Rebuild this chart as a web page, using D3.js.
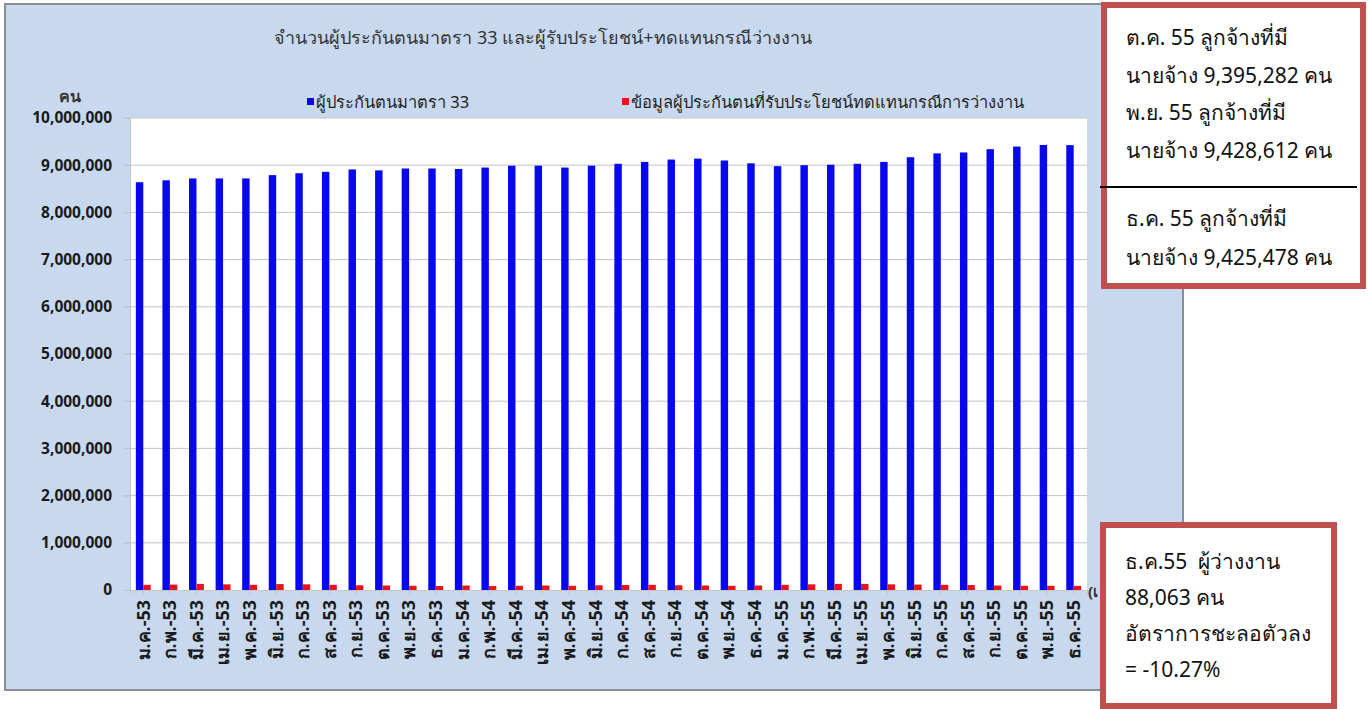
<!DOCTYPE html>
<html>
<head>
<meta charset="utf-8">
<script src="https://cdn.jsdelivr.net/npm/d3@7/dist/d3.min.js"></script>
<style>
    body { margin: 0; background: #fff; }
    svg text { font-family: Tahoma, "Noto Sans", "DejaVu Sans", sans-serif; }
</style>
</head>
<body>
<svg id="chart" width="1370" height="709"></svg>
<script>
var months = ["ม.ค.-53", "ก.พ.-53", "มี.ค.-53", "เม.ย.-53", "พ.ค.-53", "มิ.ย.-53",
    "ก.ค.-53", "ส.ค.-53", "ก.ย.-53", "ต.ค.-53", "พ.ย.-53", "ธ.ค.-53",
    "ม.ค.-54", "ก.พ.-54", "มี.ค.-54", "เม.ย.-54", "พ.ค.-54", "มิ.ย.-54",
    "ก.ค.-54", "ส.ค.-54", "ก.ย.-54", "ต.ค.-54", "พ.ย.-54", "ธ.ค.-54",
    "ม.ค.-55", "ก.พ.-55", "มี.ค.-55", "เม.ย.-55", "พ.ค.-55", "มิ.ย.-55",
    "ก.ค.-55", "ส.ค.-55", "ก.ย.-55", "ต.ค.-55", "พ.ย.-55", "ธ.ค.-55"];

// ผู้ประกันตนมาตรา 33
var insured = [8640000, 8680000, 8720000, 8720000, 8720000, 8790000,
    8830000, 8860000, 8910000, 8890000, 8930000, 8930000,
    8920000, 8950000, 8990000, 8990000, 8950000, 8990000,
    9030000, 9070000, 9120000, 9140000, 9100000, 9040000,
    8980000, 9000000, 9010000, 9030000, 9070000, 9170000,
    9250000, 9270000, 9340000, 9395282, 9428612, 9425478];

// ผู้รับประโยชน์ทดแทนกรณีว่างงาน
var unemployed = [110000, 115000, 130000, 120000, 110000, 125000,
    120000, 110000, 100000, 95000, 90000, 85000,
    95000, 85000, 90000, 95000, 90000, 100000,
    105000, 110000, 100000, 95000, 90000, 95000,
    110000, 120000, 130000, 130000, 120000, 115000,
    110000, 105000, 95000, 90000, 90000, 88063];

var yTicks = d3.range(0, 10000001, 1000000);

var title = "จำนวนผู้ประกันตนมาตรา 33 และผู้รับประโยชน์+ทดแทนกรณีว่างงาน",
    legendLabels = ["ผู้ประกันตนมาตรา 33", "ข้อมูลผู้ประกันตนที่รับประโยชน์ทดแทนกรณีการว่างงาน"],
    colors = ["#0808ee", "#e8141c"];

var boxTop = ["ต.ค. 55 ลูกจ้างที่มี", "นายจ้าง 9,395,282 คน", "พ.ย. 55 ลูกจ้างที่มี", "นายจ้าง 9,428,612 คน"],
    boxMid = ["ธ.ค. 55 ลูกจ้างที่มี", "นายจ้าง 9,425,478 คน"],
    boxBottom = ["ธ.ค.55  ผู้ว่างงาน", "88,063 คน", "อัตราการชะลอตัวลง", "= -10.27%"];

var plot = { left: 130, right: 1087, top: 118, bottom: 590 };

var svg = d3.select("#chart");

// chart background
svg.append("rect")
    .attr("x", 5).attr("y", 4)
    .attr("width", 1178).attr("height", 686)
    .attr("fill", "#c8d9ef")
    .attr("stroke", "#8a8f96")
    .attr("stroke-width", 2);

svg.append("rect")
    .attr("x", plot.left).attr("y", plot.top)
    .attr("width", plot.right - plot.left).attr("height", plot.bottom - plot.top)
    .attr("fill", "#ffffff");

var x = d3.scaleBand()
    .domain(months)
    .range([plot.left, plot.right])
    .paddingInner(0.44)
    .paddingOuter(0.22);

var y = d3.scaleLinear()
    .domain([0, 10000000])
    .range([plot.bottom, plot.top]);

// gridlines
svg.append("g")
    .selectAll("line")
    .data(yTicks.slice(1))
    .enter().append("line")
    .attr("x1", plot.left - 6).attr("x2", plot.right)
    .attr("y1", function(d) { return y(d); })
    .attr("y2", function(d) { return y(d); })
    .attr("stroke", "#c4c4c4")
    .attr("stroke-width", 1);

// y axis
var yAxis = svg.append("g")
    .attr("transform", "translate(" + plot.left + ",0)")
    .call(d3.axisLeft(y).tickValues(yTicks).tickSize(6).tickPadding(12)
        .tickFormat(d3.format(",")));
yAxis.select(".domain").attr("stroke", "#c4c4c4");
yAxis.selectAll(".tick line").attr("stroke", "#c4c4c4");
yAxis.selectAll("text")
    .attr("font-size", 15.5)
    .attr("font-weight", "bold")
    .attr("fill", "#1a1a1a");

// x axis
var xAxis = svg.append("g")
    .attr("transform", "translate(0," + plot.bottom + ")")
    .call(d3.axisBottom(x).tickSize(4).tickPadding(6));
xAxis.select(".domain").attr("stroke", "#c4c4c4");
xAxis.selectAll(".tick line").attr("stroke", "#c4c4c4");
xAxis.selectAll("text")
    .attr("font-size", 18)
    .attr("font-weight", "bold")
    .attr("fill", "#1a1a1a")
    .attr("text-anchor", "end")
    .attr("dy", "0.35em")
    .attr("transform", "translate(0,6) rotate(-90)")
    .attr("x", -4)
    .attr("y", 0);

// bars
var half = x.bandwidth() / 2;
svg.append("g")
    .selectAll("rect")
    .data(insured)
    .enter().append("rect")
    .attr("x", function(d, i) { return x(months[i]); })
    .attr("y", function(d) { return y(d); })
    .attr("width", half)
    .attr("height", function(d) { return y(0) - y(d); })
    .attr("fill", colors[0]);

svg.append("g")
    .selectAll("rect")
    .data(unemployed)
    .enter().append("rect")
    .attr("x", function(d, i) { return x(months[i]) + half; })
    .attr("y", function(d) { return y(d); })
    .attr("width", half)
    .attr("height", function(d) { return y(0) - y(d); })
    .attr("fill", colors[1]);

// title, units, legend
svg.append("text")
    .attr("x", 543).attr("y", 44)
    .attr("text-anchor", "middle")
    .attr("font-size", 18)
    .attr("fill", "#333")
    .text(title);

svg.append("text")
    .attr("x", 70).attr("y", 102)
    .attr("text-anchor", "middle")
    .attr("font-size", 16)
    .attr("font-weight", "bold")
    .attr("fill", "#333")
    .text("คน");

var legendX = [307, 622];
var legend = svg.append("g")
    .selectAll("g")
    .data(legendLabels)
    .enter().append("g")
    .attr("transform", function(d, i) { return "translate(" + legendX[i] + ",103)"; });
legend.append("rect")
    .attr("x", 0).attr("y", -5)
    .attr("width", 7).attr("height", 7)
    .attr("fill", function(d, i) { return colors[i]; });
legend.append("text")
    .attr("x", 9).attr("y", 5)
    .attr("font-size", 16.5)
    .attr("fill", "#222")
    .text(function(d) { return d; });

// axis unit label, cut off by the annotation box like in the original
svg.append("clipPath").attr("id", "unitclip")
    .append("rect")
    .attr("x", 1085).attr("y", 570)
    .attr("width", 15).attr("height", 40);
svg.append("text")
    .attr("x", 1088).attr("y", 597)
    .attr("font-size", 15)
    .attr("font-weight", "bold")
    .attr("fill", "#333")
    .attr("clip-path", "url(#unitclip)")
    .text("(เ");

// annotation boxes
function box(x0, y0, w, h) {
    svg.append("rect")
        .attr("x", x0).attr("y", y0)
        .attr("width", w).attr("height", h)
        .attr("fill", "#ffffff")
        .attr("stroke", "#c0504d")
        .attr("stroke-width", 6);
}

function lines(arr, x0, y0, step) {
    svg.append("g")
        .selectAll("text")
        .data(arr)
        .enter().append("text")
        .attr("x", x0)
        .attr("y", function(d, i) { return y0 + i * step; })
        .attr("font-size", 21)
        .attr("fill", "#111")
        .style("white-space", "pre")
        .text(function(d) { return d; });
}

box(1104, 5, 259, 281);
svg.append("line")
    .attr("x1", 1100).attr("x2", 1357)
    .attr("y1", 187).attr("y2", 187)
    .attr("stroke", "#000").attr("stroke-width", 2);
lines(boxTop, 1126, 45, 37.7);
lines(boxMid, 1126, 226, 39);

box(1103, 525, 231, 181);
lines(boxBottom, 1125, 569, 36);
</script>
</body>
</html>
